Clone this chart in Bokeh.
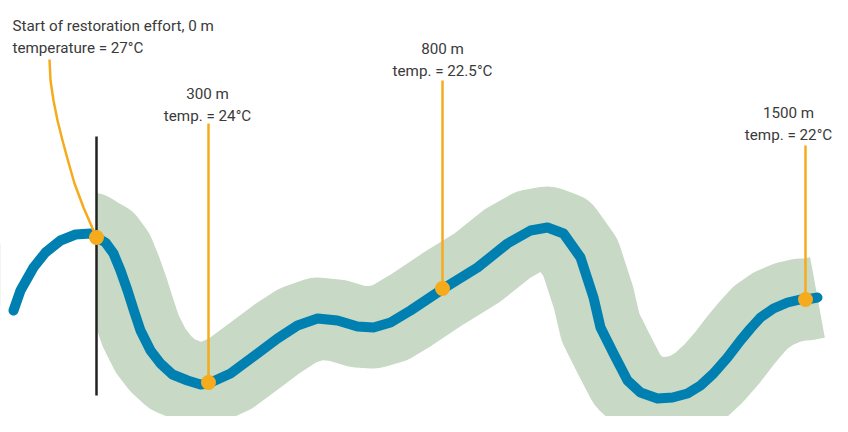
from bokeh.plotting import figure
from bokeh.models import Range1d
from bokeh.core.properties import value
from bokeh.embed import file_html
from bokeh.resources import INLINE

# River centreline (pixel-like coordinates, y downwards)
RIVER_X = [13, 20, 33, 45, 60, 75, 90, 96, 105, 113, 120, 127, 134, 140, 150, 160, 172, 187,
           200, 208, 230, 257, 277, 297, 317, 337, 357, 373, 390, 410, 443, 477, 507, 530,
           547, 563, 580, 593, 600, 613, 627, 640, 657, 672, 687, 700, 713, 727, 740, 750,
           760, 773, 787, 800, 806, 817]
RIVER_Y = [310, 290, 267, 252, 240, 234, 233, 237, 242, 253, 270, 290, 312, 330, 350, 363, 374, 380,
           384, 383, 373, 353, 338, 325, 318, 320, 326, 327, 322, 310, 288, 267, 243, 230,
           227, 233, 257, 297, 327, 353, 380, 392, 398, 397, 393, 385, 373, 357, 340, 328,
           317, 308, 302, 299, 299, 297]

# Restoration start position
START_X = 96
START_LINE_Y = [136, 395]

# Callouts
DISTANCES = ["0 m", "300 m", "800 m", "1500 m"]
TEMPS = ["27°C", "24°C", "22.5°C", "22°C"]
POINT_X = [96, 208, 442, 805]
POINT_Y = [237, 382, 288, 299]
LEADER_TOP = [None, 123, 80, 145]
LABEL_X = [12, 207, 442, 788]
LABEL_Y = [25, 93, 48, 112]
LABEL_ALIGN = ["left", "center", "center", "center"]

# Curved leader for the first callout
LEADER0_X = [49, 50, 53, 57, 62, 68, 74, 83, 96]
LEADER0_Y = [59, 80, 100, 120, 140, 162, 183, 207, 237]

BLUE = "#0080b0"
GREEN = "#c8d9c6"
ORANGE = "#f6ab1c"
TEXT = "#3a3a3a"
FONT = value("Roboto")
FSIZE = "15.2px"

p = figure(width=832, height=416, output_backend="svg", toolbar_location=None,
           x_range=Range1d(0, 832), y_range=Range1d(416, 0), min_border=0)
p.axis.visible = False
p.grid.visible = False
p.outline_line_color = None
p.background_fill_color = "white"
p.border_fill_color = "white"

# riparian buffer band
p.line(RIVER_X, RIVER_Y, line_width=82, line_color=GREEN, line_join="round", line_cap="butt")
# mask everything upstream of restoration start
p.quad(left=[-10], right=[START_X], top=[-10], bottom=[440], fill_color="white", line_color=None)

# river
p.line(RIVER_X, RIVER_Y, line_width=10, line_color=BLUE, line_join="round", line_cap="round")

# start line
p.line([START_X, START_X], START_LINE_Y, line_width=2.5, line_color="#222222")

# leaders
p.line(LEADER0_X, LEADER0_Y, line_width=2.5, line_color=ORANGE, line_join="round")
for i in range(1, 4):
    p.line([POINT_X[i], POINT_X[i]], [LEADER_TOP[i], POINT_Y[i]], line_width=2.5, line_color=ORANGE)
p.scatter(POINT_X, POINT_Y, size=15, fill_color=ORANGE, line_color=None)

# labels
line1 = ["Start of restoration effort, " + DISTANCES[0]] + DISTANCES[1:]
line2 = ["temperature = " + TEMPS[0]] + ["temp. = " + t for t in TEMPS[1:]]
for i in range(4):
    p.text(x=[LABEL_X[i]], y=[LABEL_Y[i]], text=[line1[i]], text_font=FONT,
           text_font_size=FSIZE, text_color=TEXT, text_align=LABEL_ALIGN[i], text_baseline="alphabetic")
    p.text(x=[LABEL_X[i]], y=[LABEL_Y[i] + 22], text=[line2[i]], text_font=FONT,
           text_font_size=FSIZE, text_color=TEXT, text_align=LABEL_ALIGN[i], text_baseline="alphabetic")

open("out.html", "w").write(file_html(p, INLINE))
